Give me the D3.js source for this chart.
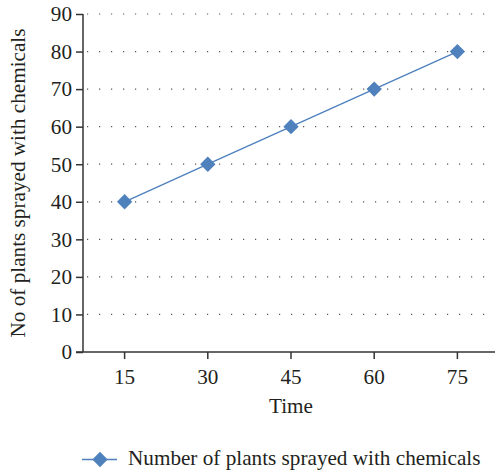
<!DOCTYPE html>
<html><head><meta charset="utf-8">
<script src="https://cdn.jsdelivr.net/npm/d3@7"></script>
<style>body{margin:0;background:#fff}svg{display:block}</style>
</head><body><svg id="c" width="495" height="470" font-family="Liberation Serif"></svg>
<script>
const categories = ["15","30","45","60","75"];
const values = [40,50,60,70,80];
const yTicks = [0,10,20,30,40,50,60,70,80,90];
const seriesName = "Number of plants sprayed with chemicals";
const xTitle = "Time";
const yTitle = "No of plants sprayed with chemicals";

const svg = d3.select("#c");
const m = {l:83, t:14, r:499, b:352};
const x = d3.scaleBand().domain(categories).range([m.l, m.r]);
const y = d3.scaleLinear().domain([0,90]).range([m.b, m.t]);
const col = "#4F81BD";
const fs = 21.2;
const ff = "Liberation Serif";
const tc = "#231f20";

// grid
svg.append("g").selectAll("line").data(yTicks.filter(d=>d>0)).join("line")
  .attr("x1", m.l+1).attr("x2", 495).attr("y1", d=>y(d)).attr("y2", d=>y(d))
  .attr("stroke","#555").attr("stroke-width",1.2).attr("stroke-dasharray","1.2,10.8")
  .attr("stroke-dashoffset",-3);

// y axis
const ya = svg.append("g").attr("transform",`translate(${m.l},0)`)
  .call(d3.axisLeft(y).tickValues(yTicks).tickSize(7).tickPadding(4));
ya.select(".domain").attr("d",`M0,${m.t}V${m.b}`);
// x axis
const xa = svg.append("g").attr("transform",`translate(0,${m.b})`)
  .call(d3.axisBottom(x).tickSize(7).tickPadding(10));
xa.select(".domain").attr("d",`M${m.l-7},0H495`);
[ya,xa].forEach(a=>{
  a.attr("font-family",ff).attr("font-size",fs);
  a.selectAll(".domain,.tick line").attr("stroke","#333").attr("stroke-width",1.5);
  a.selectAll("text").attr("font-family",ff).attr("font-size",fs).attr("fill",tc);
});

// line
const cx = d=>x(d)+x.bandwidth()/2;
svg.append("path").datum(values.map((v,i)=>[categories[i],v]))
  .attr("fill","none").attr("stroke",col).attr("stroke-width",1.4)
  .attr("d", d3.line().x(d=>cx(d[0])).y(d=>y(d[1])));
const diamond = d3.symbol().type(d3.symbolDiamond2).size(150);
svg.append("g").selectAll("path").data(values).join("path")
  .attr("d", diamond).attr("fill",col)
  .attr("transform",(d,i)=>`translate(${cx(categories[i])},${y(d)})`);

// titles
svg.append("text").attr("x",291).attr("y",413).attr("text-anchor","middle")
  .attr("font-family",ff).attr("font-size",fs).attr("fill",tc).text(xTitle);
svg.append("text").attr("transform",`translate(25,183) rotate(-90)`).attr("text-anchor","middle")
  .attr("font-family",ff).attr("font-size",fs).attr("fill",tc).text(yTitle);

// legend
const lg = svg.append("g").attr("transform","translate(82,459.5)");
lg.append("line").attr("x1",0).attr("x2",35).attr("stroke",col).attr("stroke-width",1.4);
lg.append("path").attr("d",diamond).attr("fill",col).attr("transform","translate(18,0)");
lg.append("text").attr("x",46).attr("y",5.5).attr("font-family",ff).attr("font-size",fs).attr("fill",tc).text(seriesName);
</script></body></html>
